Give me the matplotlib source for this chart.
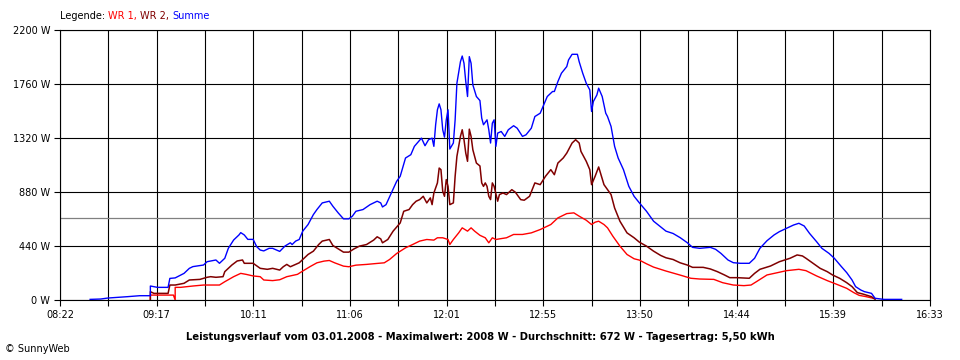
import numpy as np
import matplotlib
matplotlib.use("Agg")
import matplotlib.pyplot as plt

# Leistungsverlauf 03.01.2008, values (W)
t_sum = ["08:39", "08:45", "08:49", "09:00", "09:07", "09:13", "09:13", "09:17", "09:23", "09:24",
         "09:27", "09:32", "09:35", "09:37", "09:43", "09:45", "09:50", "09:52", "09:55", "09:57",
         "10:00", "10:03", "10:04", "10:06", "10:08", "10:11", "10:13", "10:15", "10:17", "10:20",
         "10:22", "10:26", "10:29", "10:32", "10:33", "10:35", "10:37", "10:39", "10:42", "10:45",
         "10:47", "10:50", "10:54", "10:56", "10:59", "11:02", "11:05", "11:07", "11:09", "11:13",
         "11:17", "11:21", "11:23", "11:24", "11:26", "11:29", "11:32", "11:34", "11:37", "11:40",
         "11:42", "11:46", "11:48", "11:50", "11:52", "11:53", "11:54", "11:55", "11:56", "11:57",
         "11:58", "11:59", "12:00", "12:01", "12:02", "12:04", "12:05", "12:06", "12:08", "12:09",
         "12:10", "12:11", "12:12", "12:13", "12:14", "12:15", "12:17", "12:19", "12:20", "12:21",
         "12:23", "12:24", "12:25", "12:26", "12:27", "12:28", "12:29", "12:31", "12:33", "12:35",
         "12:38", "12:40", "12:43", "12:45", "12:48", "12:50", "12:53", "12:55", "12:57", "13:00",
         "13:01", "13:03", "13:05", "13:08", "13:09", "13:11", "13:14", "13:15", "13:17", "13:19",
         "13:21", "13:22", "13:23", "13:25", "13:26", "13:28", "13:30", "13:31", "13:33", "13:35",
         "13:37", "13:40", "13:43", "13:46", "13:49", "13:53", "13:57", "14:01", "14:04", "14:08",
         "14:12", "14:16", "14:19", "14:23", "14:29", "14:32", "14:35", "14:39", "14:42", "14:46",
         "14:51", "14:54", "14:57", "15:01", "15:05", "15:08", "15:12", "15:16", "15:19", "15:22",
         "15:25", "15:29", "15:32", "15:36", "15:39", "15:43", "15:46", "15:49", "15:51", "15:54",
         "15:56", "16:00", "16:02", "16:07", "16:17"]
p_sum = [5, 8, 16, 27, 35, 35, 114, 103, 103, 176,
         180, 217, 258, 272, 285, 312, 326, 299, 340, 421,
         489, 530, 549, 530, 494, 494, 435, 407, 400, 421,
         421, 396, 440, 466, 452, 480, 493, 561, 615, 696,
         737, 791, 805, 764, 710, 661, 661, 683, 723, 737,
         777, 805, 791, 758, 777, 872, 967, 1008, 1157, 1184,
         1252, 1319, 1257, 1306, 1319, 1252, 1428, 1550, 1598, 1550,
         1387, 1327, 1468, 1550, 1230, 1279, 1468, 1766, 1942, 1988,
         1929, 1780, 1658, 1983, 1929, 1753, 1658, 1625, 1482, 1428,
         1468, 1387, 1279, 1441, 1468, 1252, 1360, 1373, 1333, 1387,
         1420, 1400, 1333, 1346, 1400, 1495, 1522, 1590, 1658, 1699,
         1699, 1780, 1848, 1902, 1956, 2002, 2002, 1942, 1848, 1766,
         1712, 1536, 1617, 1671, 1726, 1658, 1522, 1495, 1414, 1252,
         1157, 1062, 927, 845, 791, 723, 642, 596, 561, 542,
         508, 467, 429, 421, 429, 413, 380, 326, 304, 299,
         299, 340, 421, 483, 530, 557, 584, 611, 625, 603,
         543, 475, 421, 380, 340, 272, 223, 163, 109, 81,
         68, 54, 14, 5, 5]

t_wr2 = ["09:13", "09:13", "09:15", "09:20", "09:23", "09:24", "09:27", "09:32", "09:35", "09:41",
         "09:45", "09:47", "09:50", "09:54", "09:55", "09:59", "10:02", "10:05", "10:06", "10:11",
         "10:15", "10:19", "10:22", "10:26", "10:28", "10:30", "10:32", "10:35", "10:37", "10:39",
         "10:42", "10:45", "10:48", "10:50", "10:54", "10:56", "10:59", "11:02", "11:05", "11:08",
         "11:11", "11:15", "11:19", "11:21", "11:23", "11:24", "11:27", "11:30", "11:34", "11:36",
         "11:39", "11:41", "11:43", "11:45", "11:47", "11:49", "11:51", "11:52", "11:53", "11:55",
         "11:56", "11:57", "11:58", "11:59", "12:00", "12:01", "12:02", "12:04", "12:05", "12:06",
         "12:08", "12:09", "12:10", "12:11", "12:12", "12:13", "12:14", "12:15", "12:17", "12:19",
         "12:20", "12:21", "12:22", "12:23", "12:24", "12:25", "12:26", "12:27", "12:29", "12:30",
         "12:32", "12:34", "12:37", "12:39", "12:42", "12:44", "12:47", "12:50", "12:53", "12:56",
         "12:59", "13:01", "13:03", "13:06", "13:08", "13:11", "13:13", "13:15", "13:16", "13:19",
         "13:21", "13:22", "13:24", "13:26", "13:29", "13:31", "13:33", "13:35", "13:38", "13:42",
         "13:46", "13:49", "13:53", "13:57", "14:01", "14:04", "14:08", "14:12", "14:16", "14:19",
         "14:25", "14:29", "14:33", "14:37", "14:40", "14:44", "14:51", "14:54", "14:57", "15:03",
         "15:08", "15:14", "15:18", "15:21", "15:23", "15:27", "15:31", "15:35", "15:38", "15:42",
         "15:46", "15:49", "15:52", "15:55", "16:00", "16:02"]
p_wr2 = [0, 68, 54, 54, 54, 122, 122, 136, 163, 168,
         185, 190, 185, 190, 231, 285, 318, 326, 299, 299,
         258, 250, 258, 244, 271, 290, 271, 290, 303, 330,
         371, 398, 452, 480, 493, 444, 417, 390, 390, 417,
         439, 452, 488, 515, 498, 466, 493, 561, 628, 723,
         737, 777, 805, 818, 845, 791, 832, 777, 872, 954,
         1075, 1062, 886, 845, 981, 926, 777, 791, 1008, 1170,
         1333, 1387, 1306, 1197, 1130, 1392, 1333, 1224, 1116, 1092,
         954, 926, 954, 926, 845, 818, 954, 926, 805, 859,
         872, 859, 899, 878, 818, 813, 845, 954, 940, 1008,
         1062, 1021, 1116, 1157, 1197, 1279, 1306, 1279, 1211, 1130,
         1062, 940, 1008, 1084, 940, 899, 859, 750, 642, 547,
         507, 471, 439, 398, 363, 344, 330, 303, 285, 266,
         266, 253, 231, 204, 182, 182, 177, 217, 250, 277,
         312, 340, 367, 359, 340, 299, 258, 231, 204, 177,
         141, 109, 60, 49, 27, 5]

t_wr1 = ["09:13", "09:13", "09:26", "09:27", "09:27", "09:30", "09:37", "09:43", "09:52", "09:55",
         "10:00", "10:04", "10:07", "10:11", "10:15", "10:17", "10:22", "10:26", "10:30", "10:36",
         "10:39", "10:43", "10:47", "10:51", "10:54", "10:57", "11:02", "11:05", "11:09", "11:15",
         "11:21", "11:25", "11:28", "11:32", "11:37", "11:41", "11:45", "11:49", "11:53", "11:55",
         "11:58", "12:01", "12:02", "12:04", "12:07", "12:09", "12:12", "12:14", "12:16", "12:19",
         "12:22", "12:24", "12:26", "12:28", "12:30", "12:34", "12:38", "12:43", "12:48", "12:53",
         "12:59", "13:03", "13:08", "13:12", "13:15", "13:19", "13:22", "13:24", "13:26", "13:29",
         "13:31", "13:34", "13:38", "13:42", "13:46", "13:49", "13:53", "13:57", "14:04", "14:12",
         "14:18", "14:23", "14:31", "14:36", "14:42", "14:48", "14:52", "14:55", "15:01", "15:07",
         "15:12", "15:19", "15:23", "15:29", "15:35", "15:40", "15:46", "15:50", "15:53", "15:57",
         "16:01"]
p_wr1 = [0, 40, 40, 0, 103, 103, 114, 122, 122, 149,
         190, 217, 209, 196, 190, 163, 158, 165, 190, 209,
         236, 271, 303, 317, 322, 303, 276, 271, 284, 290,
         298, 303, 330, 379, 425, 452, 480, 493, 488, 507,
         507, 493, 452, 493, 547, 588, 561, 588, 561, 527,
         507, 466, 507, 493, 498, 507, 534, 534, 547, 574,
         615, 669, 704, 710, 683, 650, 615, 634, 642, 615,
         588, 520, 439, 371, 336, 325, 295, 268, 236, 203,
         177, 171, 168, 141, 122, 117, 122, 149, 204, 223,
         239, 250, 239, 196, 158, 130, 95, 60, 38, 27,
         14]

average_w = 672
tick_labels = ["08:22", "09:17", "10:11", "11:06", "12:01", "12:55", "13:50", "14:44", "15:39", "16:33"]
y_ticks = [0, 440, 880, 1320, 1760, 2200]
legend_words = ["Legende: ", "WR 1, ", "WR 2, ", "Summe"]
legend_colors = ["black", "#ff0000", "#800000", "#0000ff"]
title = ("Leistungsverlauf vom 03.01.2008 - Maximalwert: 2008 W - "
         "Durchschnitt: 672 W - Tagesertrag: 5,50 kWh")


def to_minutes(times):
    out = []
    for s in times:
        h, m = s.split(":")
        out.append(int(h) * 60 + int(m))
    return np.array(out, dtype=float)


def main():
    plt.rcParams["font.family"] = ["DejaVu Sans"]
    plt.rcParams["font.size"] = 7

    fig = plt.figure(figsize=(9.6, 3.6), dpi=100)
    ax = fig.add_axes([60 / 960, 60 / 360, 870 / 960, 270 / 360])

    x0, x1 = to_minutes([tick_labels[0], tick_labels[-1]])
    ax.set_xlim(x0, x1)
    ax.set_ylim(0, 2200)

    major = np.linspace(x0, x1, len(tick_labels))
    minor = np.linspace(x0, x1, 2 * len(tick_labels) - 1)
    ax.set_xticks(major)
    ax.set_xticklabels(tick_labels)
    ax.set_xticks(minor, minor=True)
    ax.set_yticks(y_ticks)
    ax.set_yticklabels([f"{v} W" for v in y_ticks])

    ax.grid(True, which="both", color="black", linewidth=0.8)
    ax.set_axisbelow(True)
    ax.tick_params(which="both", direction="out", length=4, width=0.8, color="black", pad=3)
    for sp in ax.spines.values():
        sp.set_color("black")
        sp.set_linewidth(0.8)

    ax.axhline(average_w, color="#808080", linewidth=0.9, zorder=1.5)

    ax.plot(to_minutes(t_wr1), p_wr1, color="#ff0000", linewidth=1.0)
    ax.plot(to_minutes(t_wr2), p_wr2, color="#800000", linewidth=1.1)
    ax.plot(to_minutes(t_sum), p_sum, color="#0000ff", linewidth=1.0)

    # legend line on top, coloured word by word
    prev = fig.text(60 / 960, 1 - 16 / 360, legend_words[0], color=legend_colors[0], va="center")
    for word, col in zip(legend_words[1:], legend_colors[1:]):
        prev = ax.annotate(word, xycoords=prev, xy=(1, 0), va="bottom", color=col,
                           annotation_clip=False)

    fig.text(0.5, 1 - 337 / 360, title, ha="center", va="center", fontweight="bold", fontsize=7.2)
    fig.text(5 / 960, 1 - 349 / 360, "\u00a9 SunnyWeb", ha="left", va="center")

    fig.savefig("out.png", dpi=100, facecolor="white")


if __name__ == "__main__":
    main()
